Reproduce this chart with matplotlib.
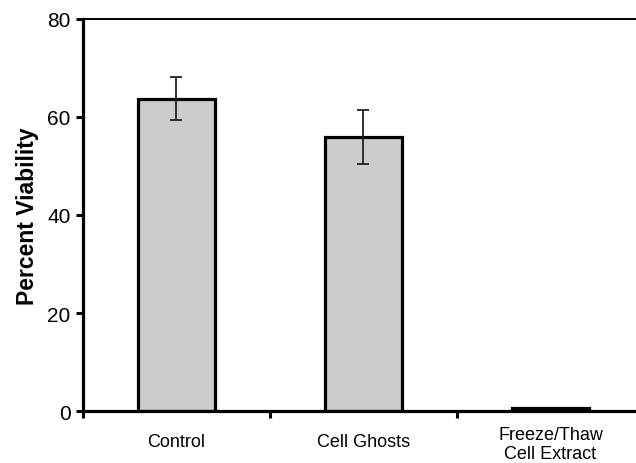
import numpy as np
import matplotlib.pyplot as plt
from matplotlib.transforms import ScaledTranslation

plt.rcParams['font.family'] = ['Liberation Sans', 'DejaVu Sans']

groups = ['Control', 'Cell Ghosts', 'Freeze/Thaw\nCell Extract']
viability = [63.7, 56.0, 0.7]
err = [4.4, 5.5, 0.0]

fig = plt.figure(figsize=(6.36, 4.64), dpi=100)
ax = fig.add_axes([0.1305, 0.112, 0.882, 0.845])

x = np.arange(len(groups))
ax.bar(x, viability, width=0.41, color='#cccccc', edgecolor='black',
       linewidth=2.3, zorder=2)
ax.errorbar(x[:2], viability[:2], yerr=err[:2], fmt='none', ecolor='#222222',
            elinewidth=1.3, capsize=4.5, capthick=1.3, zorder=3)

ax.set_xlim(-0.5, 2.5)
ax.set_ylim(0, 80)
ax.set_yticks([0, 20, 40, 60, 80])

# category names sit between the boundary tick marks
ax.set_xticks(x)
ax.set_xticklabels(groups, fontsize=13, linespacing=1.15)
ax.set_xticks([-0.5, 0.5, 1.5, 2.5], minor=True)
ax.tick_params(axis='x', which='major', length=0, pad=16)
ax.tick_params(axis='x', which='minor', length=5, width=2.2, direction='out')
ax.tick_params(axis='y', labelsize=15, length=5, width=2.2, direction='out',
               pad=4)

# two-line label is lifted a little so it stays centred on the row
lab = ax.get_xticklabels()[2]
lab.set_transform(lab.get_transform() + ScaledTranslation(0, 5 / 72, fig.dpi_scale_trans))

ax.spines['left'].set_linewidth(2.3)
ax.spines['bottom'].set_linewidth(2.3)
ax.spines['top'].set_linewidth(1.4)
ax.spines['right'].set_visible(False)

ax.set_ylabel('Percent Viability', fontsize=16.5, fontweight='bold', labelpad=6)

fig.savefig('out.png', dpi=100)
